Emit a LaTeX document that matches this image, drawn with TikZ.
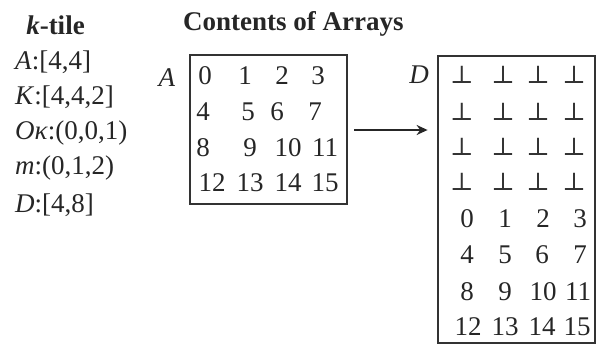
\documentclass[tikz,border=0pt]{standalone}
\usepackage{fontspec}
\setmainfont{Liberation Serif}
\newfontfamily\perpfont{DejaVu Serif}
\usetikzlibrary{arrows.meta}
\begin{document}
\begin{tikzpicture}[x=1pt,y=-1pt,
  txt/.style={inner sep=0pt, text=black!85, font=\fontsize{27}{30}\selectfont},
  lst/.style={txt, anchor=west},
  ttl/.style={txt, font=\fontsize{27}{30}\selectfont\bfseries},
  bot/.style={inner sep=0pt, text=black!80, font=\fontsize{25}{30}\selectfont\perpfont},
  arr/.style={draw=black!80, line width=2.8pt, inner sep=0pt},
  conn/.style={draw=black!85, line width=2.8pt, -{Stealth[length=11pt,width=10pt]}}]
\useasboundingbox (0,0) rectangle (597,346);
% titles
\node[ttl] (t1) at (55.5,25) {\textit{k}-tile};
\node[ttl, anchor=west] (t2) at (183,24) {Contents of Arrays};
% list
\node[lst] (l1) at (15,62) {\textit{A}:[4,4]};
\node[lst] (l2) at (15,97) {\textit{K}:[4,4,2]};
\node[lst] (l3) at (15,133) {\textit{Oκ}:(0,0,1)};
\node[lst] (l4) at (15,168) {\textit{m}:(0,1,2)};
\node[lst] (l5) at (15,205) {\textit{D}:[4,8]};
% boxes
\node[arr, minimum width=157pt, minimum height=149pt] (boxA) at (268.5,129.5) {};
\node[arr, minimum width=157pt, minimum height=287pt] (boxD) at (516.5,199.5) {};
\node[txt] (labA) at (167,78) {\textit{A}};
\node[txt] (labD) at (419,75) {\textit{D}};
% contents of A
\foreach \v/\x/\y in {0/205/76,1/245/76,2/282/76,3/318/76,
  4/203/112,5/248/112,6/277/112,7/315/112,
  8/203/148,9/250/148,10/288/148,11/325/148,
  12/212/183,13/250/183,14/288/183,15/325/183}
  \node[txt] (a\v) at (\x,\y) {\v};
% contents of D: bottoms
\foreach \r/\y in {1/75,2/112,3/147,4/182}
  \foreach \c/\x in {1/462,2/503,3/538,4/574}
    \node[bot] (p\r\c) at (\x,\y) {⊥};
\foreach \v/\x/\y in {0/467/219,1/505/219,2/543/219,3/580/219,
  4/467/255,5/505/255,6/542/255,7/580/255,
  8/467/292,9/505/292,10/543/292,11/578/292,
  12/468/327,13/505/327,14/542/327,15/577/327}
  \node[txt] (d\v) at (\x,\y) {\v};
% arrow
\coordinate (ya) at (0,130);
\draw[conn, shorten <=6pt, shorten >=9pt] (boxA.east |- ya) -- (boxD.west |- ya);
\end{tikzpicture}
\end{document}
